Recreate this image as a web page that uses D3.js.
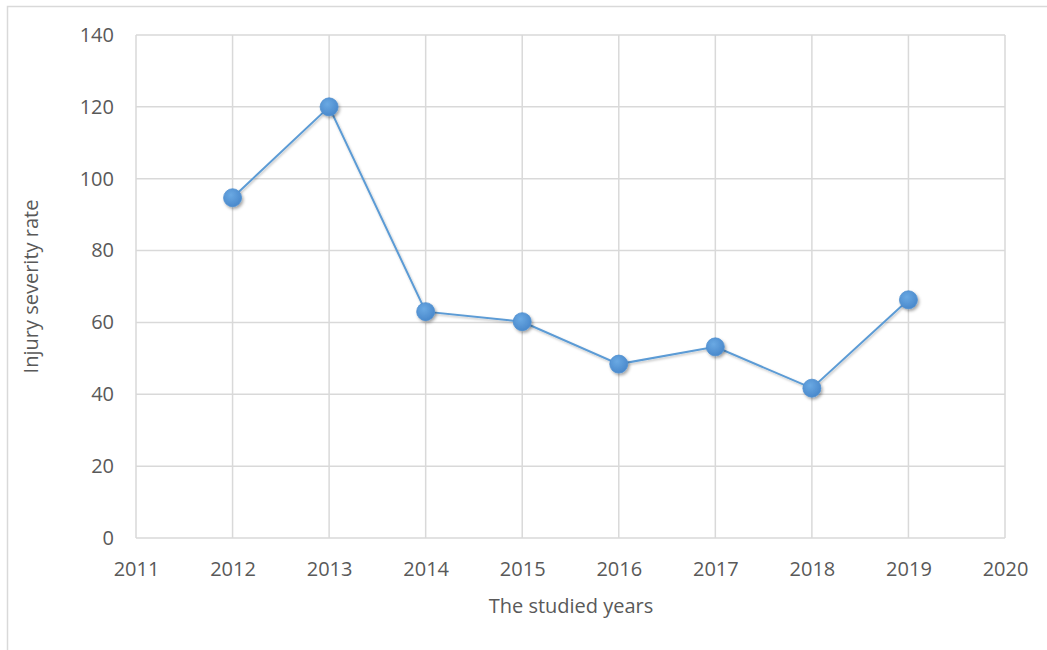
<!DOCTYPE html>
<html><head><meta charset="utf-8">
<script src="https://cdn.jsdelivr.net/npm/d3@7"></script>
<style>body{margin:0;background:#fff}svg{display:block}</style>
</head><body>
<svg id="c" width="1047" height="650"></svg>
<script>
const years = [2012, 2013, 2014, 2015, 2016, 2017, 2018, 2019];
const severity = [94.7, 120, 63, 60.2, 48.4, 53.2, 41.7, 66.3];
const xTicks = [2011, 2012, 2013, 2014, 2015, 2016, 2017, 2018, 2019, 2020];
const yTicks = [0, 20, 40, 60, 80, 100, 120, 140];

const svg = d3.select("#c");
const font = "'Open Sans', 'Liberation Sans', sans-serif";
const m = {l:136, r:1005, t:35, b:538};

svg.append("path").attr("d", `M7.5,650 V6.5 H1047`).attr("fill","none").attr("stroke","#d9d9d9").attr("stroke-width",1.5);

const x = d3.scaleLinear().domain([2011, 2020]).range([m.l, m.r]);
const y = d3.scaleLinear().domain([0, 140]).range([m.b, m.t]);

const defs = svg.append("defs");
const g = defs.append("radialGradient").attr("id","mk").attr("cx","40%").attr("cy","35%").attr("r","65%");
g.append("stop").attr("offset","0%").attr("stop-color","#6aa9e3");
g.append("stop").attr("offset","100%").attr("stop-color","#4a89cc");
const f = defs.append("filter").attr("id","sh").attr("x","-50%").attr("y","-50%").attr("width","200%").attr("height","200%");
f.append("feDropShadow").attr("dx",1.5).attr("dy",2).attr("stdDeviation",1.8).attr("flood-color","#000").attr("flood-opacity",0.35);
const f2 = defs.append("filter").attr("id","lsh").attr("x","-10%").attr("y","-10%").attr("width","120%").attr("height","120%");
f2.append("feDropShadow").attr("dx",1).attr("dy",1.5).attr("stdDeviation",1.2).attr("flood-color","#000").attr("flood-opacity",0.25);

svg.append("g").selectAll("line").data(yTicks).join("line")
  .attr("x1", m.l).attr("x2", m.r).attr("y1", d=>y(d)).attr("y2", d=>y(d))
  .attr("stroke","#d9d9d9").attr("stroke-width",1.5);
svg.append("g").selectAll("line").data(xTicks).join("line")
  .attr("y1", m.t).attr("y2", m.b).attr("x1", d=>x(d)).attr("x2", d=>x(d))
  .attr("stroke","#d9d9d9").attr("stroke-width",1.5);

const yAxis = svg.append("g").attr("transform",`translate(${m.l},0)`)
  .call(d3.axisLeft(y).tickValues(yTicks).tickSize(0).tickPadding(22));
const xAxis = svg.append("g").attr("transform",`translate(0,${m.b})`)
  .call(d3.axisBottom(x).tickValues(xTicks).tickFormat(d3.format("d")).tickSize(0).tickPadding(24));
[yAxis, xAxis].forEach(a=>{
  a.select(".domain").remove();
  a.selectAll("text").attr("fill","#595959").style("font-family",font).style("font-size","20px");
});

const line = d3.line().x((d,i)=>x(years[i])).y(d=>y(d));
svg.append("path").datum(severity).attr("d", line).attr("fill","none")
  .attr("stroke","#5b9bd5").attr("stroke-width",2).attr("filter","url(#lsh)");

svg.append("g").selectAll("circle").data(severity).join("circle")
  .attr("cx",(d,i)=>x(years[i])).attr("cy",d=>y(d)).attr("r",9)
  .attr("fill","url(#mk)").attr("stroke","#4f8fd0").attr("stroke-width",0.8).attr("filter","url(#sh)");

svg.append("text").attr("x", 571).attr("y", 613).attr("text-anchor","middle")
  .attr("fill","#595959").style("font-family",font).style("font-size","20px").text("The studied years");
svg.append("text").attr("transform",`translate(38,${(m.t+m.b)/2}) rotate(-90)`).attr("text-anchor","middle")
  .attr("fill","#595959").style("font-family",font).style("font-size","20px").text("Injury severity rate");
</script>
</body></html>
